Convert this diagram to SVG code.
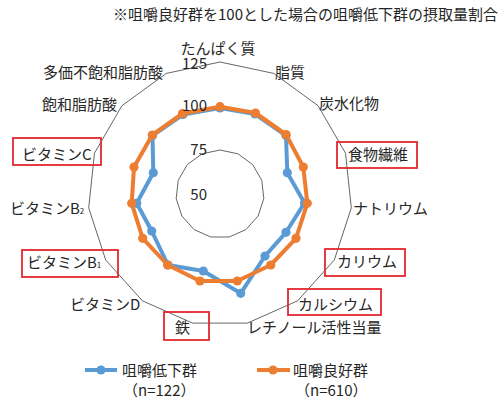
<svg xmlns="http://www.w3.org/2000/svg" width="500" height="401" viewBox="0 0 500 401">
<style>
text{font-family:"Noto Sans CJK JP","Noto Sans",sans-serif;font-size:15px;fill:#262626}
.grid{fill:none;stroke:#666;stroke-width:1}
.box{fill:none;stroke:#E3262E;stroke-width:1.8}
.blue{fill:none;stroke:#5B9BD5;stroke-width:4;stroke-linejoin:round}
.orange{fill:none;stroke:#ED7D31;stroke-width:4;stroke-linejoin:round}
.num{text-anchor:end}
</style>
<defs>
<marker id="mb" viewBox="-5 -5 10 10" markerWidth="10" markerHeight="10" markerUnits="userSpaceOnUse"><circle r="4.6" fill="#5B9BD5"/></marker>
<marker id="mo" viewBox="-5 -5 10 10" markerWidth="10" markerHeight="10" markerUnits="userSpaceOnUse"><circle r="4.6" fill="#ED7D31"/></marker>
</defs>
<rect width="500" height="401" fill="#fff"/>
<text x="498" y="20" text-anchor="end">※咀嚼良好群を100とした場合の咀嚼低下群の摂取量割合</text>
<g id="grid">
<polygon class="grid" points="220,62 273.7,73.4 318.1,105.7 345.5,153.2 351.3,207.8 334.3,260 297.6,300.8 247.4,323.1 192.6,323.1 142.4,300.8 105.7,260 88.7,207.8 94.5,153.2 121.9,105.7 166.3,73.4"/>
<polygon class="grid" points="220,150 237.9,153.8 252.7,164.6 261.8,180.4 263.8,198.6 258.1,216 245.9,229.6 229.1,237 210.9,237 194.1,229.6 181.9,216 176.2,198.6 178.2,180.4 187.3,164.6 202.1,153.8"/>
</g>
<g id="series">
<polygon class="blue" marker-start="url(#mb)" marker-mid="url(#mb)" points="220,108 255,114 286,135.5 287.3,172.7 304.5,203 286,232.3 265,256 240.7,293.3 203.3,271 168,265 151.7,231 136.7,203.3 153.3,172.7 152.5,135.5 183,114.5"/>
<polygon class="orange" marker-start="url(#mo)" marker-mid="url(#mo)" points="220,106.7 255.5,113 286,134.5 303.3,167 307.3,203.3 296,238.3 270.7,265 237.3,281 200,281 167.7,265 142.7,238.3 131.7,203.3 134,167 152.3,135 182.5,113.5"/>
</g>
<g id="axis-values">
<text class="num" x="207" y="69">125</text>
<text class="num" x="207" y="111">100</text>
<text class="num" x="207" y="155">75</text>
<text class="num" x="207" y="200">50</text>
</g>
<g id="labels">
<text x="218" y="54" text-anchor="middle">たんぱく質</text>
<text x="275" y="78">脂質</text>
<text x="319" y="109">炭水化物</text>
<g id="fiber"><rect class="box" x="337" y="142" width="80" height="26"/><text x="348" y="160">食物繊維</text></g>
<text x="353" y="214">ナトリウム</text>
<g id="potassium"><rect class="box" x="325" y="249" width="80" height="27"/><text x="337" y="267">カリウム</text></g>
<g id="calcium"><rect class="box" x="288" y="289" width="93" height="26"/><text x="298" y="310">カルシウム</text></g>
<text x="247" y="333">レチノール活性当量</text>
<g id="iron"><rect class="box" x="164" y="312" width="45" height="28"/><text x="175" y="333">鉄</text></g>
<text x="70" y="310">ビタミンD</text>
<g id="vitb1"><rect class="box" x="22" y="250" width="96" height="27"/><text x="27" y="268">ビタミンB<tspan font-size="8">1</tspan></text></g>
<text x="10" y="214">ビタミンB<tspan font-size="8">2</tspan></text>
<g id="vitc"><rect class="box" x="13" y="138" width="88" height="27"/><text x="22" y="160">ビタミンC</text></g>
<text x="42" y="110">飽和脂肪酸</text>
<text x="43" y="78">多価不飽和脂肪酸</text>
</g>
<g id="legend">
<line x1="85" y1="370" x2="117" y2="370" stroke="#5B9BD5" stroke-width="4"/>
<circle cx="101" cy="370" r="4.6" fill="#5B9BD5"/>
<text x="122" y="376">咀嚼低下群</text>
<text x="123" y="396">（n=122）</text>
<line x1="257" y1="370" x2="290" y2="370" stroke="#ED7D31" stroke-width="4"/>
<circle cx="273" cy="370" r="4.6" fill="#ED7D31"/>
<text x="293" y="376">咀嚼良好群</text>
<text x="295" y="396">（n=610）</text>
</g>
</svg>
